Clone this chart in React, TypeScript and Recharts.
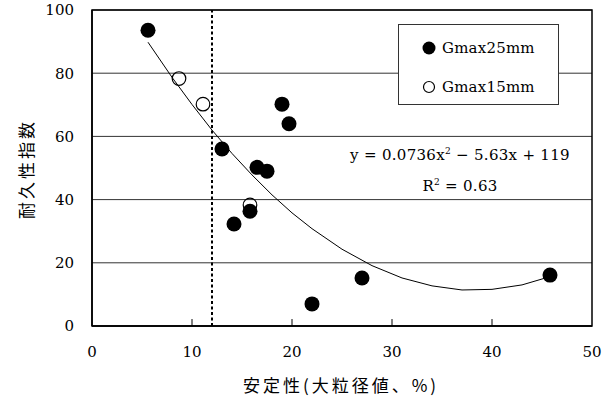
import {
  ScatterChart,
  Scatter,
  XAxis,
  YAxis,
  CartesianGrid,
  ReferenceLine,
  ReferenceArea,
  Legend,
} from "recharts";

// Gmax25mm（黒丸）
const gmax25 = [
  { x: 5.6, y: 93.6 },
  { x: 13.0, y: 56.0 },
  { x: 14.2, y: 32.3 },
  { x: 15.8, y: 36.3 },
  { x: 16.5, y: 50.2 },
  { x: 17.5, y: 49.0 },
  { x: 19.0, y: 70.2 },
  { x: 19.7, y: 64.0 },
  { x: 22.0, y: 7.0 },
  { x: 27.0, y: 15.2 },
  { x: 45.8, y: 16.1 },
];

// Gmax15mm（白丸）
const gmax15 = [
  { x: 8.7, y: 78.3 },
  { x: 11.1, y: 70.2 },
  { x: 15.8, y: 38.3 },
];

// 近似曲線（図から読んだ値）
const trend = [
  { x: 5.6, y: 89.8 },
  { x: 8, y: 78.7 },
  { x: 10, y: 70.1 },
  { x: 12, y: 62.0 },
  { x: 14, y: 54.6 },
  { x: 16, y: 47.8 },
  { x: 18, y: 41.5 },
  { x: 20, y: 35.8 },
  { x: 22, y: 30.8 },
  { x: 25, y: 24.3 },
  { x: 28, y: 19.1 },
  { x: 31, y: 15.2 },
  { x: 34, y: 12.7 },
  { x: 37, y: 11.4 },
  { x: 40, y: 11.6 },
  { x: 43, y: 13.0 },
  { x: 46, y: 15.8 },
];

const xTicks = [0, 10, 20, 30, 40, 50];
const yTicks = [0, 20, 40, 60, 80, 100];
const limitX = 12;

const serif = "'DejaVu Serif', 'Liberation Serif', serif";
const jp = "'Noto Sans CJK JP', sans-serif";

const FilledDot = (p: any) => <circle cx={p.cx} cy={p.cy} r={7.5} fill="#000" />;
const OpenDot = (p: any) => (
  <circle cx={p.cx} cy={p.cy} r={6.8} fill="none" stroke="#000" strokeWidth={1.2} />
);

function LegendBox() {
  const txt = { position: "absolute" as const, left: 43, lineHeight: "22px", letterSpacing: 0.2 };
  return (
    <div
      style={{
        position: "relative",
        width: 159,
        height: 79,
        border: "1px solid #333",
        background: "#fff",
        fontFamily: serif,
        fontSize: 15,
        color: "#000",
      }}
    >
      <svg width={16} height={16} style={{ position: "absolute", left: 22, top: 15 }}>
        <circle cx={8} cy={8} r={6.5} fill="#000" />
      </svg>
      <div style={{ ...txt, top: 12 }}>Gmax25mm</div>
      <svg width={16} height={16} style={{ position: "absolute", left: 22, top: 54 }}>
        <circle cx={8} cy={8} r={5.5} fill="none" stroke="#000" strokeWidth={1.2} />
      </svg>
      <div style={{ ...txt, top: 51 }}>Gmax15mm</div>
    </div>
  );
}

export default function App() {
  return (
    <div style={{ position: "absolute", left: 0, top: 0, width: 607, height: 403, background: "#fff" }}>
      <ScatterChart width={607} height={403} margin={{ top: 10, right: 15, left: 0, bottom: 0 }}>
        <CartesianGrid horizontal vertical={false} stroke="#333" strokeWidth={1} />
        <XAxis
          type="number"
          dataKey="x"
          domain={[0, 50]}
          ticks={xTicks}
          height={77}
          tickSize={6}
          tickMargin={14}
          tickLine={false}
          axisLine={{ stroke: "#000", strokeWidth: 1.5 }}
          tick={{ fill: "#000", fontSize: 15, fontFamily: serif }}
          label={{
            content: () => (
              <text
                x={341}
                y={392}
                textAnchor="middle"
                fontFamily={jp}
                fontSize={17}
                letterSpacing={3}
                fill="#000"
              >
                安定性(大粒径値、%)
              </text>
            ),
          }}
        />
        <YAxis
          type="number"
          dataKey="y"
          domain={[0, 100]}
          ticks={yTicks}
          width={92}
          tickSize={6}
          tickMargin={12}
          tickLine={false}
          axisLine={{ stroke: "#000", strokeWidth: 1.5 }}
          tick={{ fill: "#000", fontSize: 15, fontFamily: serif }}
          label={{
            content: () => (
              <text
                x={25}
                y={169}
                transform="rotate(-90 25 169)"
                textAnchor="middle"
                dominantBaseline="central"
                fontFamily={jp}
                fontSize={17}
                letterSpacing={3}
                fill="#000"
              >
                耐久性指数
              </text>
            ),
          }}
        />
        <ReferenceArea x1={0} x2={50} y1={0} y2={100} fill="none" stroke="#000" strokeWidth={1.5} />
        {xTicks.slice(1, -1).map((t) => (
          <ReferenceLine
            key={t}
            segment={[
              { x: t, y: 0 },
              { x: t, y: 2.2 },
            ]}
            stroke="#000"
            strokeWidth={1}
          />
        ))}
        <ReferenceLine x={limitX} stroke="#000" strokeWidth={2} strokeDasharray="3 2.5" />
        <Legend
          layout="horizontal"
          verticalAlign="middle"
          align="center"
          content={() => <LegendBox />}
          wrapperStyle={{ position: "absolute", left: 398, top: 24, width: 161, height: 81 }}
        />
        <Scatter name="Gmax15mm" data={gmax15} shape={OpenDot} isAnimationActive={false} />
        <Scatter
          name="trend"
          data={trend}
          line={{ stroke: "#000", strokeWidth: 1 }}
          shape={() => <g />}
          isAnimationActive={false}
          legendType="none"
        />
        <Scatter name="Gmax25mm" data={gmax25} shape={FilledDot} isAnimationActive={false} />
      </ScatterChart>
      <div
        style={{
          position: "absolute",
          left: 330,
          top: 138,
          width: 260,
          textAlign: "center",
          fontFamily: serif,
          fontSize: 15,
          lineHeight: "27px",
          letterSpacing: 0.3,
          color: "#000",
        }}
      >
        <div>
          y = 0.0736x<sup style={{ fontSize: 9 }}>2</sup> − 5.63x + 119
        </div>
        <div>
          R<sup style={{ fontSize: 9 }}>2</sup> = 0.63
        </div>
      </div>
    </div>
  );
}
